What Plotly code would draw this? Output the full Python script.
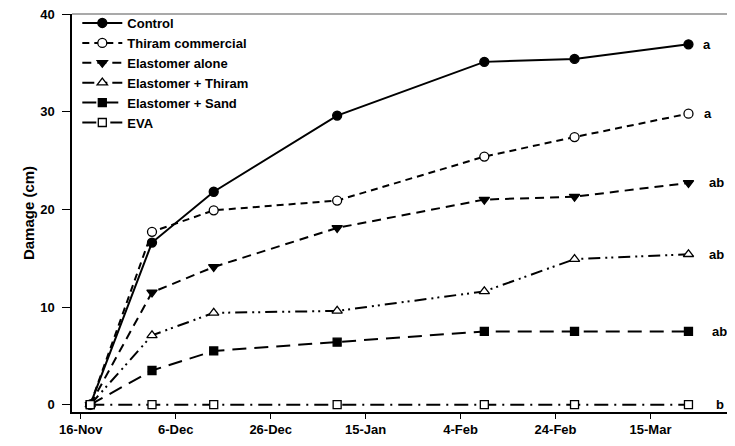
import plotly.graph_objects as go
import pandas as pd

# ---- data ----
dates = ["2011-11-18", "2011-12-01", "2011-12-14", "2012-01-09",
         "2012-02-09", "2012-02-28", "2012-03-23"]
control = [0, 16.6, 21.8, 29.6, 35.1, 35.4, 36.9]
thiram_commercial = [0, 17.7, 19.9, 20.9, 25.4, 27.4, 29.8]
elastomer_alone = [0, 11.5, 14.1, 18.1, 21.0, 21.3, 22.7]
elastomer_thiram = [0, 7.1, 9.4, 9.6, 11.6, 14.9, 15.4]
elastomer_sand = [0, 3.5, 5.5, 6.4, 7.5, 7.5, 7.5]
eva = [0, 0, 0, 0, 0, 0, 0]
series_names = ["Control", "Thiram commercial", "Elastomer alone",
                "Elastomer + Thiram", "Elastomer + Sand", "EVA"]
sig_letters = ["a", "a", "ab", "ab", "ab", "b"]
y_ticks = [0, 10, 20, 30, 40]

series_values = [control, thiram_commercial, elastomer_alone,
                 elastomer_thiram, elastomer_sand, eva]

# ---- styles ----
FONT = "Liberation Sans, Arial, sans-serif"
dashes = ["solid", "7px,5px", "9px,6px", "12px,5px,2px,4px,2px,5px",
          "14px,8px", "14px,6px,2px,6px"]
symbols = ["circle", "circle-open", "triangle-down", "triangle-up-open",
           "square", "square-open"]
msizes = [9, 9, 9, 9, 8, 8]
letter_shift = [19, 20, 28, 28, 31, 32]

fig = go.Figure()
for name, vals, dsh, sym, ms in zip(series_names, series_values, dashes, symbols, msizes):
    is_open = sym.endswith("-open")
    fig.add_trace(go.Scatter(
        x=dates, y=vals, name=name, mode="lines+markers",
        line=dict(color="black", width=2, dash=dsh),
        marker=dict(symbol=sym.replace("-open", ""), size=ms,
                    color="white" if is_open else "black",
                    line=dict(color="black", width=1.3)),
    ))

for vals, letter, xs in zip(series_values, sig_letters, letter_shift):
    fig.add_annotation(x=dates[-1], y=vals[-1], text="<b>%s</b>" % letter,
                       showarrow=False, xanchor="center", yanchor="middle",
                       xshift=xs, font=dict(family=FONT, size=13, color="black"))

t0 = pd.Timestamp("2011-11-16")
x_range = [t0 - pd.Timedelta(days=1.85), t0 + pd.Timedelta(days=137.8)]

fig.update_layout(
    width=727, height=438,
    margin=dict(l=64, r=0, t=4, b=34),
    paper_bgcolor="white", plot_bgcolor="white",
    font=dict(family=FONT, size=13, color="black"),
    showlegend=True,
    legend=dict(x=0.008, y=1.015, xanchor="left", yanchor="top",
                bgcolor="rgba(0,0,0,0)", borderwidth=0,
                font=dict(family=FONT, size=13, color="black", weight="bold"),
                itemwidth=40, tracegroupgap=0),
    xaxis=dict(type="date", range=x_range, tick0="2011-11-16",
               dtick=20 * 86400000, tickformat="%-d-%b",
               showgrid=False, zeroline=False, showline=True,
               linecolor="black", linewidth=1.5, mirror=False,
               ticks="outside", ticklen=5, tickwidth=1.2, tickcolor="black",
               ticklabeloverflow="allow",
               tickfont=dict(family=FONT, size=13, color="black", weight="bold")),
    yaxis=dict(range=[-0.75, 40.001], tickvals=y_ticks,
               showgrid=False, zeroline=False, showline=True,
               linecolor="black", linewidth=1.5,
               ticks="outside", ticklen=8, tickwidth=1.2, tickcolor="black",
               ticklabelstandoff=5, ticklabeloverflow="allow",
               tickfont=dict(family=FONT, size=13, color="black", weight="bold"),
               title=dict(text="Damage (cm)", standoff=2,
                          font=dict(family=FONT, size=15, color="black", weight="bold"))),
)
# top border line of the plot area
fig.add_shape(type="line", xref="paper", yref="paper", x0=0, x1=1, y0=1, y1=1,
              line=dict(color="#555555", width=1.2))

fig.write_html("out.html")
